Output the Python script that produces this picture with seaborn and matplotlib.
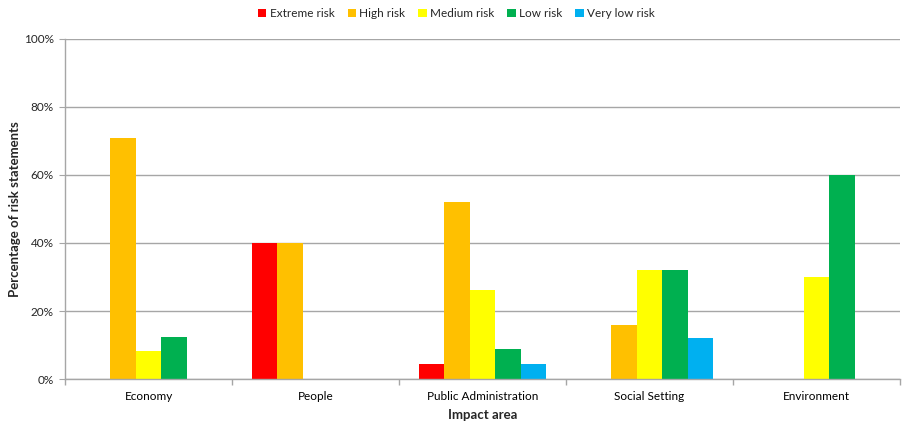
import matplotlib
matplotlib.use("Agg")
import matplotlib.pyplot as plt
import seaborn as sns
import pandas as pd
import numpy as np
from matplotlib.ticker import FixedLocator, PercentFormatter

categories = ["Economy", "People", "Public Administration", "Social Setting", "Environment"]
risk_levels = ["Extreme risk", "High risk", "Medium risk", "Low risk", "Very low risk"]
extreme = [0.0, 40.0, 4.3, 0.0, 0.0]
high = [70.8, 40.0, 52.2, 16.0, 0.0]
medium = [8.3, 0.0, 26.1, 32.0, 30.0]
low = [12.5, 0.0, 8.7, 32.0, 60.0]
very_low = [0.0, 0.0, 4.3, 12.0, 0.0]
colors = ["#FF0000", "#FFC000", "#FFFF00", "#00B050", "#00B0F0"]

series = [extreme, high, medium, low, very_low]
rows = []
for lvl, vals in zip(risk_levels, series):
    for c, v in zip(categories, vals):
        rows.append({"Impact area": c, "Risk": lvl, "Value": v})
df = pd.DataFrame(rows)

sns.set_style("white")
plt.rcParams["font.family"] = ["Lato", "DejaVu Sans"]

fig = plt.figure(figsize=(9.04, 4.37), dpi=100)
ax = fig.add_axes([65/904, 1-379/437, 835/904, 340/437])

sns.barplot(data=df, x="Impact area", y="Value", hue="Risk", order=categories,
            hue_order=risk_levels, palette=colors, width=0.765, gap=0,
            saturation=1, ax=ax, legend=True, errorbar=None, linewidth=0)

ax.set_ylim(0, 100)
ax.set_xlim(-0.5, len(categories) - 0.5)
ax.set_yticks([0, 20, 40, 60, 80, 100])
ax.yaxis.set_major_formatter(PercentFormatter(decimals=0))
ax.yaxis.grid(True, color="#A6A6A6", linewidth=1)
ax.set_axisbelow(True)
for s in ["top", "right"]:
    ax.spines[s].set_visible(False)
for s in ["left", "bottom"]:
    ax.spines[s].set_color("#A6A6A6")
    ax.spines[s].set_linewidth(1)

ax.xaxis.set_minor_locator(FixedLocator(np.arange(-0.5, len(categories), 1.0)))
ax.tick_params(axis="x", which="major", length=0, labelsize=8.5, pad=9, colors="black")
ax.tick_params(axis="x", which="minor", length=4, color="#A6A6A6", width=1, direction="out", bottom=True)
ax.tick_params(axis="y", which="major", length=4, color="#A6A6A6", left=True, labelsize=8.5, pad=4)

ax.set_xlabel("Impact area", fontsize=9.5, fontweight="bold", labelpad=5)
ax.set_ylabel("Percentage of risk statements", fontsize=9.5, fontweight="bold", labelpad=2)

handles, labels = ax.get_legend_handles_labels()
ax.get_legend().remove()
fig.legend(handles, labels, loc="center", bbox_to_anchor=(0.505, 0.968), ncol=5,
           frameon=False, fontsize=8.5, handlelength=0.7, handleheight=0.7,
           handletextpad=0.3, columnspacing=1.1)

fig.savefig("out.png", dpi=100)
